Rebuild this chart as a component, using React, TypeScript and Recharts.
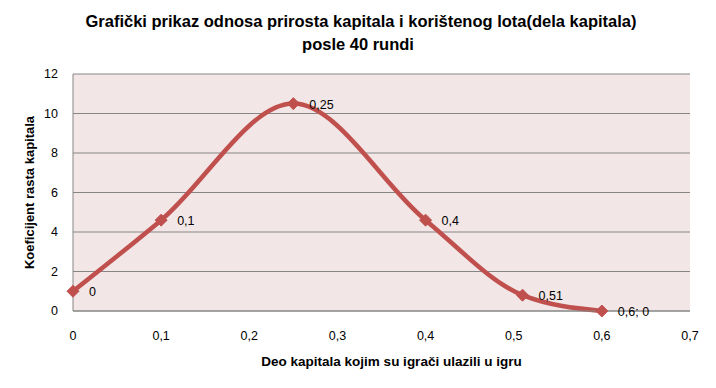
import React from 'react';
import { LineChart, Line, XAxis, YAxis, CartesianGrid, LabelList, Label } from 'recharts';

// udeo kapitala (x) i koeficijent rasta (y)
const xShare = [0, 0.1, 0.25, 0.4, 0.51, 0.6];
const growth = [1, 4.6, 10.5, 4.6, 0.8, 0];
const pointLabels = ['0', '0,1', '0,25', '0,4', '0,51', '0,6; 0'];
const xTicks = [0, 0.1, 0.2, 0.3, 0.4, 0.5, 0.6, 0.7];
const yTicks = [0, 2, 4, 6, 8, 10, 12];

const chartData = xShare.map((x, i) => ({ x, y: growth[i], label: pointLabels[i] }));

const FONT = '"Liberation Sans", Arial, sans-serif';
const RED = '#C0504D';

const Diamond = (props: any) => {
  const { cx, cy } = props;
  if (cx == null || cy == null) return null;
  const r = 6;
  return (
    <polygon
      points={`${cx},${cy - r} ${cx + r},${cy} ${cx},${cy + r} ${cx - r},${cy}`}
      fill={RED}
      stroke={RED}
    />
  );
};

const PointLabel = (props: any) => {
  const { x, y, value } = props;
  return (
    <text x={x + 16} y={y + 1} dominantBaseline="central" fontSize={12.5} fill="#000" fontFamily={FONT}>
      {value}
    </text>
  );
};

const fmt = (v: number) => String(Math.round(v * 10) / 10).replace('.', ',');

export default function App() {
  return (
    <div style={{ position: 'absolute', left: 0, top: 0, width: 716, height: 388, background: '#fff', fontFamily: FONT }}>
      <div
        style={{
          position: 'absolute',
          left: 0,
          top: 10,
          width: 716,
          textAlign: 'center',
          fontWeight: 'bold',
          fontSize: 16.5,
          lineHeight: '23px',
          color: '#000',
        }}
      >
        <div style={{ paddingLeft: 6 }}>Grafički prikaz odnosa prirosta kapitala i korištenog lota(dela kapitala)</div>
        <div>posle 40 rundi</div>
      </div>
      <LineChart
        width={716}
        height={388}
        data={chartData}
        margin={{ top: 74, right: 26, left: 33, bottom: 47 }}
        style={{ position: 'absolute', left: 0, top: 0 }}
      >
        <CartesianGrid vertical={false} stroke="#868686" fill="#F2E6E6" fillOpacity={1} />
        <XAxis
          dataKey="x"
          type="number"
          domain={[0, 0.7]}
          ticks={xTicks}
          tickFormatter={fmt}
          tickLine={false}
          axisLine={{ stroke: '#868686' }}
          tickMargin={14}
          height={30}
          tick={{ fill: '#000', fontSize: 12.5, fontFamily: FONT }}
        >
          <Label
            value="Deo kapitala kojim su igrači ulazili u igru"
            position="insideBottom"
            offset={-25}
            dx={10}
            style={{ fontWeight: 'bold', fontSize: 13.5, fill: '#000', fontFamily: FONT }}
          />
        </XAxis>
        <YAxis
          type="number"
          domain={[0, 12]}
          ticks={yTicks}
          tickLine={false}
          axisLine={{ stroke: '#868686' }}
          tickMargin={9}
          width={40}
          tick={{ fill: '#000', fontSize: 12.5, fontFamily: FONT }}
        >
          <Label
            value="Koeficijent rasta kapitala"
            angle={-90}
            position="insideLeft"
            offset={-4}
            style={{ fontWeight: 'bold', fontSize: 13, fill: '#000', fontFamily: FONT, textAnchor: 'middle' }}
          />
        </YAxis>
        <Line
          dataKey="y"
          type="monotone"
          stroke={RED}
          strokeWidth={4.5}
          dot={<Diamond />}
          activeDot={false}
          isAnimationActive={false}
        >
          <LabelList dataKey="label" content={<PointLabel />} />
        </Line>
      </LineChart>
    </div>
  );
}
